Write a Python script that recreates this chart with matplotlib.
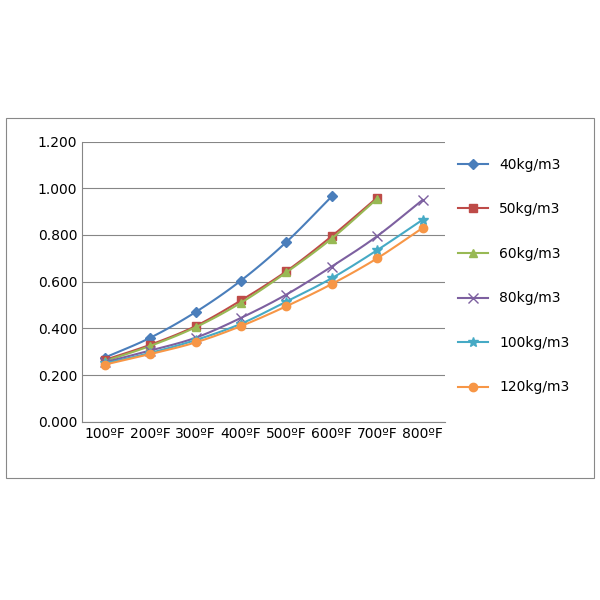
import matplotlib
matplotlib.use("Agg")
import matplotlib.pyplot as plt
import numpy as np
from matplotlib.patches import Rectangle
from matplotlib.lines import Line2D

categories = ["100ºF", "200ºF", "300ºF", "400ºF", "500ºF", "600ºF", "700ºF", "800ºF"]
s40 = [0.275, 0.360, 0.470, 0.605, 0.770, 0.965]
s50 = [0.265, 0.330, 0.410, 0.520, 0.645, 0.795, 0.960]
s60 = [0.260, 0.325, 0.405, 0.510, 0.640, 0.785, 0.955]
s80 = [0.255, 0.305, 0.360, 0.445, 0.545, 0.665, 0.795, 0.950]
s100 = [0.250, 0.295, 0.350, 0.420, 0.515, 0.615, 0.735, 0.865]
s120 = [0.245, 0.290, 0.340, 0.410, 0.495, 0.590, 0.700, 0.830]

series = [
    ("40kg/m3", s40, "#4A7EBB", "D", 5),
    ("50kg/m3", s50, "#BE4B48", "s", 6),
    ("60kg/m3", s60, "#98B954", "^", 6),
    ("80kg/m3", s80, "#7D60A0", "x", 7),
    ("100kg/m3", s100, "#46AAC5", "*", 7),
    ("120kg/m3", s120, "#F79646", "o", 6),
]


def smooth(y, n=20):
    # catmull-rom through the points, like Excel's smoothed line
    y = np.asarray(y, float)
    x = np.arange(len(y), dtype=float)
    p = np.concatenate([[2 * y[0] - y[1]], y, [2 * y[-1] - y[-2]]])
    xs, ys = [], []
    for i in range(len(y) - 1):
        t = np.linspace(0, 1, n, endpoint=False)
        p0, p1, p2, p3 = p[i], p[i + 1], p[i + 2], p[i + 3]
        ys.append(0.5 * (2 * p1 + (-p0 + p2) * t + (2 * p0 - 5 * p1 + 4 * p2 - p3) * t**2
                         + (-p0 + 3 * p1 - 3 * p2 + p3) * t**3))
        xs.append(x[i] + t)
    xs.append([x[-1]]); ys.append([y[-1]])
    return np.concatenate(xs), np.concatenate(ys)


fig = plt.figure(figsize=(6, 6), dpi=100)
fig.patches.append(Rectangle((0.01, 0.203), 0.98, 0.6, transform=fig.transFigure,
                             fill=False, edgecolor="#888888", linewidth=0.8))
ax = fig.add_axes([0.137, 0.297, 0.605, 0.467])
handles = []
for label, vals, col, mk, ms in series:
    xs, ys = smooth(vals)
    ax.plot(xs, ys, color=col, linewidth=1.5)
    ax.plot(range(len(vals)), vals, linestyle="none", marker=mk, color=col,
            markersize=ms, markeredgecolor=col)
    handles.append(Line2D([], [], color=col, marker=mk, markersize=ms,
                          linewidth=1.5, label=label))

ax.set_xlim(-0.5, 7.5)
ax.set_ylim(0, 1.2)
ax.set_yticks(np.arange(0, 1.21, 0.2))
ax.set_yticklabels([f"{v:.3f}" for v in np.arange(0, 1.21, 0.2)])
ax.set_xticks(range(len(categories)))
ax.set_xticklabels(categories)
ax.tick_params(labelsize=10, length=0)
ax.grid(axis="y", color="#868686", linewidth=0.8)
ax.set_axisbelow(True)
for s in ["top", "right"]:
    ax.spines[s].set_visible(False)
ax.spines["left"].set_color("#868686")
ax.spines["bottom"].set_color("#868686")

ax.legend(handles=handles, loc="center left", bbox_to_anchor=(1.0, 0.52), frameon=False,
          fontsize=10, labelspacing=2.2, handlelength=2.2)
fig.savefig("out.png", dpi=100)
